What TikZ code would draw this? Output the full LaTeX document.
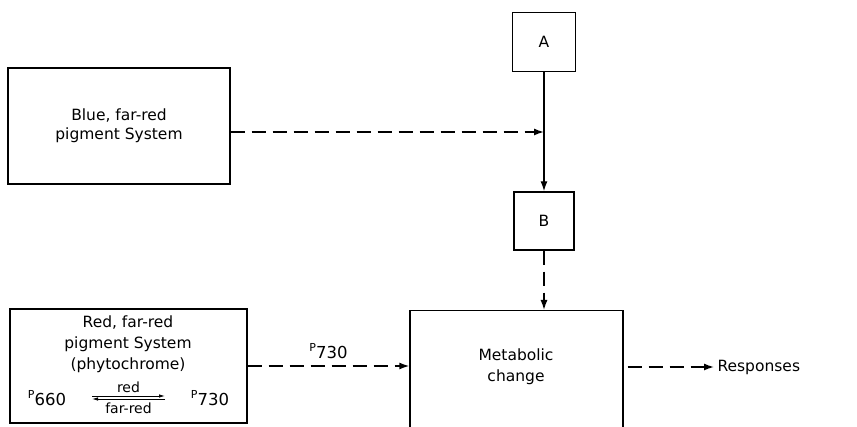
\documentclass[tikz,border=0pt]{standalone}
\usepackage{fontspec}
\setsansfont{DejaVu Sans}
\usepackage{tikz}
\usetikzlibrary{arrows.meta}
\tikzset{every picture/.style={/utils/exec={\sffamily}}}
\newcommand{\pform}[1]{\raisebox{0.45em}{\fontsize{11}{13}\selectfont P}{\fontsize{16.5}{20}\selectfont #1}}

\begin{document}
\begin{tikzpicture}[x=1pt, y=-1pt, font=\fontsize{15.5}{19}\selectfont,
  box/.style={draw, line width=1.4pt, align=center, inner sep=0pt},
  flow/.style={line width=1.4pt, dash pattern=on 14pt off 7pt, -{Latex[length=10pt,width=7pt]}},
  link/.style={line width=1.4pt, -{Latex[length=10pt,width=7pt]}},
  eqarrow/.style={line width=0.9pt, -{Latex[length=6pt,width=3.5pt]}}]

\useasboundingbox (0,0) rectangle (857,427);
\clip (0,0) rectangle (857,427);

%Pigment systems
\node[box, minimum width=222, minimum height=116] (blue) at (119,126) {Blue, far-red\\pigment System};
\node[box, minimum width=237, minimum height=114] (red) at (128.5,366) {};
\node[align=center, font=\fontsize{15.5}{21}\selectfont] (redtext) at (128,344) {Red, far-red\\pigment System\\(phytochrome)};

%Phytochrome conversion
\node (p660) at (47,398) {\pform{660}};
\node (p730) at (210,398) {\pform{730}};
\coordinate (eqL) at (92,398);
\coordinate (eqR) at (165,398);
\draw[eqarrow] ([yshift=2pt]eqL) -- ([yshift=2pt]eqR) node [midway, above, font=\fontsize{14}{15}\selectfont] {red};
\draw[eqarrow] ([yshift=-1pt]eqR) -- ([yshift=-1pt]eqL) node [midway, below, font=\fontsize{14}{15}\selectfont] {far-red};

%A and B
\node[box, minimum width=63, minimum height=59] (A) at (544,42) {A};
\node[box, minimum width=60, minimum height=58] (B) at (544,221) {B};
\draw[link] (A) -- (B);
\coordinate (jn) at (544,132);
\draw[flow] (blue.east |- jn) -- (jn);

%Metabolic change
\node[box, minimum width=213, minimum height=140, anchor=north] (met) at (516.5,310) {};
\node[align=center, font=\fontsize{15.5}{21}\selectfont] (mettext) at (516,367) {Metabolic\\change};
\draw[flow] (B.south) -- (B.south |- met.north);
\draw[flow] (red.east) -- (red.east -| met.west) node [midway, above=3pt] {\pform{730}};

%Responses
\node[anchor=west] (resp) at (714,367) {Responses};
\draw[flow] ([xshift=4pt]met.east |- resp) -- (resp.west);

\end{tikzpicture}
\end{document}
